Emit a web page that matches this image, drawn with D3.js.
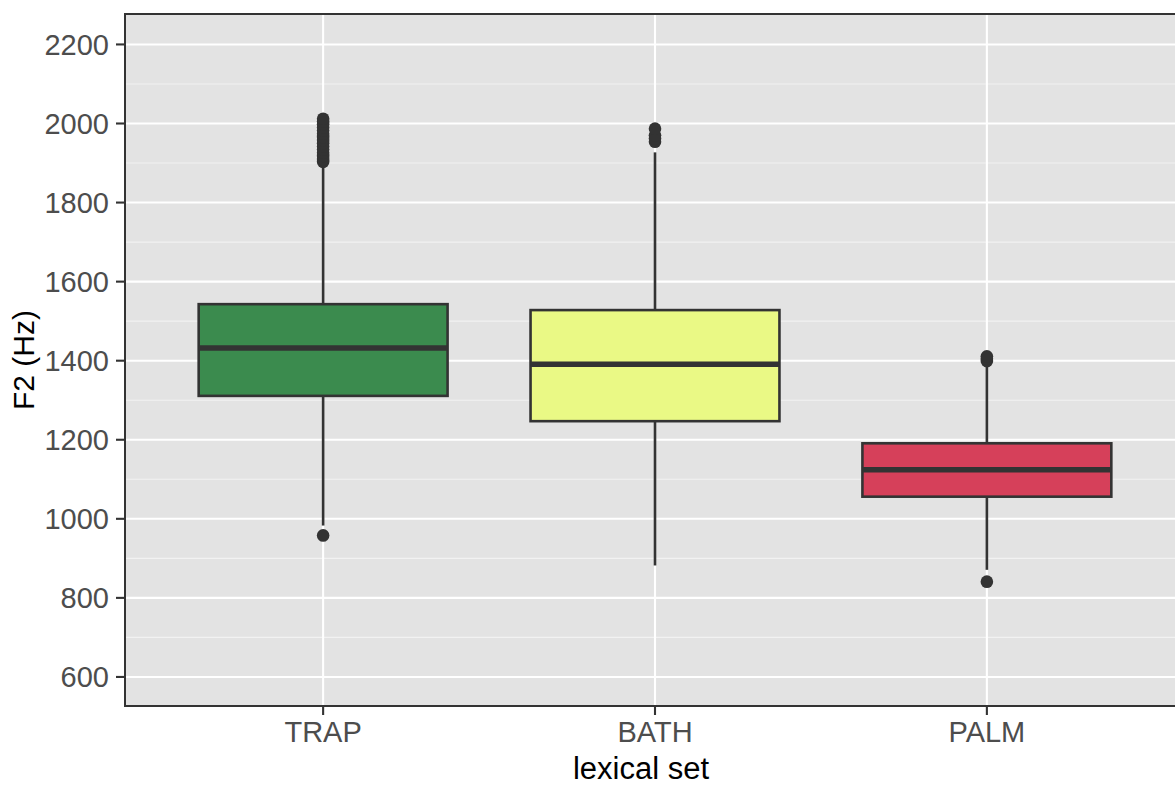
<!DOCTYPE html>
<html><head><meta charset="utf-8">
<script src="https://cdn.jsdelivr.net/npm/d3@7"></script>
<style>body{margin:0;background:#fff}svg{display:block;font-family:"Liberation Sans",Arial,sans-serif}</style>
</head><body>
<svg id="c" width="1175" height="785"></svg>
<script>
const categories = ["TRAP", "BATH", "PALM"];
const fills = ["#3B8B4E", "#EAF985", "#D6405A"];
const q1 = [1311, 1247, 1056];
const medians = [1432, 1391, 1124];
const q3 = [1543, 1528, 1191];
const whiskerLow = [983, 882, 871];
const whiskerHigh = [1893, 1927, 1390];
const outliersTRAP = [958, 1903, 1910, 1918, 1926, 1934, 1942, 1950, 1958, 1966, 1974, 1982, 1990, 1998, 2005, 2012];
const outliersBATH = [1954, 1962, 1970, 1987];
const outliersPALM = [841, 1399, 1405, 1411];
const outliers = [outliersTRAP, outliersBATH, outliersPALM];
const yTicks = [600, 800, 1000, 1200, 1400, 1600, 1800, 2000, 2200];
const yMinor = [700, 900, 1100, 1300, 1500, 1700, 1900, 2100];

const svg = d3.select("#c");
const L = 125, T = 14, B = 706, R = 1187;
const x = d3.scalePoint().domain(categories).range([124, 1186]).padding(0.6);
const y = d3.scaleLinear().domain([526.5, 2277]).range([B, T]);
const bw = x.step() * 0.75;

svg.append("defs").append("clipPath").attr("id", "pc")
  .append("rect").attr("x", L).attr("y", T).attr("width", R - L).attr("height", B - T);

const panel = svg.append("g").attr("clip-path", "url(#pc)");
panel.append("rect").attr("x", L).attr("y", T).attr("width", R - L).attr("height", B - T).attr("fill", "#E3E3E3");
panel.selectAll(".mn").data(yMinor).join("line")
  .attr("x1", L).attr("x2", R).attr("y1", d => y(d)).attr("y2", d => y(d))
  .attr("stroke", "#F2F2F2").attr("stroke-width", 1.1);
panel.selectAll(".mj").data(yTicks).join("line")
  .attr("x1", L).attr("x2", R).attr("y1", d => y(d)).attr("y2", d => y(d))
  .attr("stroke", "#fff").attr("stroke-width", 2.1);
panel.selectAll(".mx").data(categories).join("line")
  .attr("x1", d => x(d)).attr("x2", d => x(d)).attr("y1", T).attr("y2", B)
  .attr("stroke", "#fff").attr("stroke-width", 2.1);

categories.forEach((c, i) => {
  const cx = x(c);
  const g = panel.append("g");
  g.append("line").attr("x1", cx).attr("x2", cx).attr("y1", y(q3[i])).attr("y2", y(whiskerHigh[i]))
    .attr("stroke", "#333").attr("stroke-width", 2.6);
  g.append("line").attr("x1", cx).attr("x2", cx).attr("y1", y(q1[i])).attr("y2", y(whiskerLow[i]))
    .attr("stroke", "#333").attr("stroke-width", 2.6);
  g.append("rect").attr("x", cx - bw / 2).attr("y", y(q3[i])).attr("width", bw)
    .attr("height", y(q1[i]) - y(q3[i])).attr("fill", fills[i]).attr("stroke", "#333").attr("stroke-width", 2.6);
  g.append("line").attr("x1", cx - bw / 2).attr("x2", cx + bw / 2).attr("y1", y(medians[i])).attr("y2", y(medians[i]))
    .attr("stroke", "#333").attr("stroke-width", 5.4);
  g.selectAll("circle").data(outliers[i]).join("circle")
    .attr("cx", cx).attr("cy", d => y(d)).attr("r", 6.3).attr("fill", "#333");
});

svg.append("rect").attr("x", L).attr("y", T).attr("width", R - L).attr("height", B - T)
  .attr("fill", "none").attr("stroke", "#333").attr("stroke-width", 2);

// y axis
const ya = svg.append("g");
ya.selectAll("line").data(yTicks).join("line")
  .attr("x1", L - 9).attr("x2", L).attr("y1", d => y(d)).attr("y2", d => y(d))
  .attr("stroke", "#333").attr("stroke-width", 2.1);
ya.selectAll("text").data(yTicks).join("text")
  .attr("x", L - 16).attr("y", d => y(d)).attr("dy", "0.36em").attr("text-anchor", "end")
  .attr("font-size", 29).attr("fill", "#4D4D4D").text(d => d);

// x axis
const xa = svg.append("g");
xa.selectAll("line").data(categories).join("line")
  .attr("x1", d => x(d)).attr("x2", d => x(d)).attr("y1", B).attr("y2", B + 9)
  .attr("stroke", "#333").attr("stroke-width", 2.1);
xa.selectAll("text").data(categories).join("text")
  .attr("x", d => x(d)).attr("y", 742).attr("text-anchor", "middle")
  .attr("font-size", 29).attr("fill", "#4D4D4D").text(d => d);

svg.append("text").attr("x", 641).attr("y", 779).attr("text-anchor", "middle")
  .attr("font-size", 31).attr("fill", "#000").text("lexical set");
svg.append("text").attr("transform", `translate(34,${(T + B) / 2}) rotate(-90)`).attr("text-anchor", "middle")
  .attr("font-size", 30).attr("fill", "#000").text("F2 (Hz)");
</script>
</body></html>
